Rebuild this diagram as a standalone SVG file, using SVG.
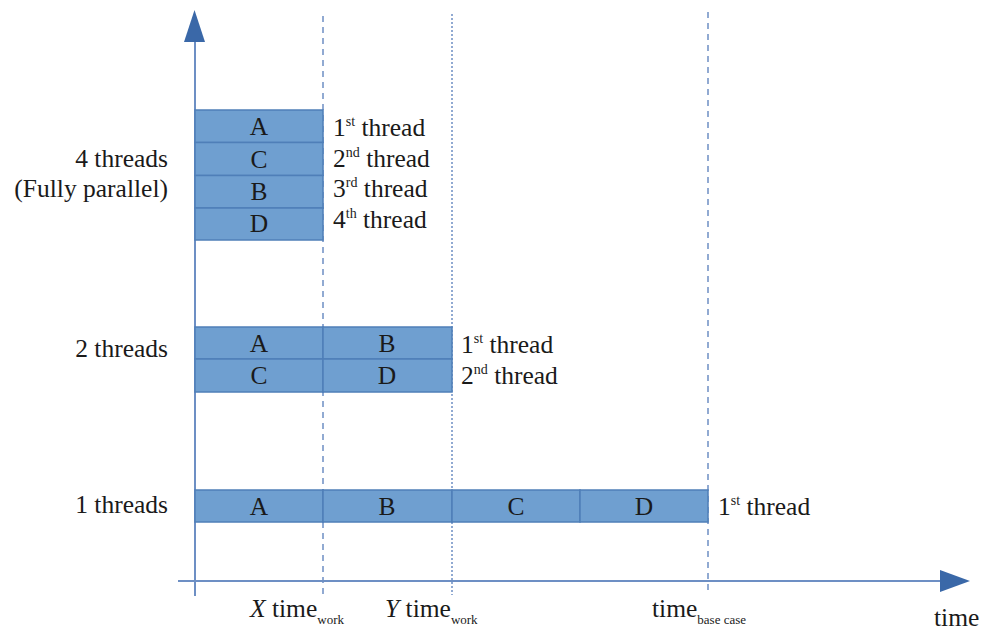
<svg xmlns="http://www.w3.org/2000/svg" width="986" height="631" viewBox="0 0 986 631">
  <style>
    .box { fill: #6f9fd0; stroke: #4f7fb8; stroke-width: 1.5; }
    .lbl { font-family: "Liberation Serif", "DejaVu Serif", serif; font-size: 25.5px; fill: #1a1a1a; }
    .mid { text-anchor: middle; }
    .end { text-anchor: end; }
    .sup { font-size: 14px; }
    .sub { font-size: 13px; }
    .axis { stroke: #6d8fc4; stroke-width: 2; fill: none; }
    .guide { stroke: #6d8fc4; stroke-width: 1.5; fill: none; }
  </style>
  <rect width="986" height="631" fill="#ffffff"/>

  <!-- guide lines at X, Y and base-case times, plus the axes -->
  <g id="connectors">
    <line class="guide" x1="323" y1="16" x2="323" y2="595" stroke-dasharray="6,5"/>
    <line class="guide" x1="452" y1="14" x2="452" y2="595" stroke-dasharray="2,2"/>
    <line class="guide" x1="708" y1="12" x2="708" y2="595" stroke-dasharray="6,5"/>
    <line class="axis" x1="195" y1="596" x2="195" y2="42"/>
    <path d="M184,42 L205,42 L194.5,10 Z" fill="#3a68a8"/>
    <line class="axis" x1="178" y1="581" x2="942" y2="581"/>
    <path d="M940,570 L940,592 L970,581 Z" fill="#3a68a8"/>
  </g>

  <!-- four threads -->
  <g id="four-threads">
    <rect class="box" x="195" y="110" width="128" height="32.5"/>
    <rect class="box" x="195" y="142.5" width="128" height="33"/>
    <rect class="box" x="195" y="175.5" width="128" height="32.5"/>
    <rect class="box" x="195" y="208" width="128" height="32"/>
    <text class="lbl mid" x="259" y="135">A</text>
    <text class="lbl mid" x="259" y="168">C</text>
    <text class="lbl mid" x="259" y="200">B</text>
    <text class="lbl mid" x="259" y="232">D</text>
    <text class="lbl" x="333" y="136">1<tspan class="sup" dy="-10">st</tspan><tspan dy="10"> thread</tspan></text>
    <text class="lbl" x="333" y="167">2<tspan class="sup" dy="-10">nd</tspan><tspan dy="10"> thread</tspan></text>
    <text class="lbl" x="333" y="197">3<tspan class="sup" dy="-10">rd</tspan><tspan dy="10"> thread</tspan></text>
    <text class="lbl" x="333" y="228">4<tspan class="sup" dy="-10">th</tspan><tspan dy="10"> thread</tspan></text>
    <text class="lbl end" x="168" y="167">4 threads</text>
    <text class="lbl end" x="168" y="197">(Fully parallel)</text>
  </g>

  <!-- two threads -->
  <g id="two-threads">
    <rect class="box" x="195" y="327" width="128" height="32"/>
    <rect class="box" x="323" y="327" width="129" height="32"/>
    <rect class="box" x="195" y="359" width="128" height="33"/>
    <rect class="box" x="323" y="359" width="129" height="33"/>
    <text class="lbl mid" x="259" y="352">A</text>
    <text class="lbl mid" x="387" y="352">B</text>
    <text class="lbl mid" x="259" y="384">C</text>
    <text class="lbl mid" x="387" y="384">D</text>
    <text class="lbl" x="461" y="353">1<tspan class="sup" dy="-10">st</tspan><tspan dy="10"> thread</tspan></text>
    <text class="lbl" x="461" y="384">2<tspan class="sup" dy="-10">nd</tspan><tspan dy="10"> thread</tspan></text>
    <text class="lbl end" x="168" y="357">2 threads</text>
  </g>

  <!-- one thread -->
  <g id="one-thread">
    <rect class="box" x="195" y="490" width="128" height="32"/>
    <rect class="box" x="323" y="490" width="129" height="32"/>
    <rect class="box" x="452" y="490" width="128" height="32"/>
    <rect class="box" x="580" y="490" width="128" height="32"/>
    <text class="lbl mid" x="259" y="515">A</text>
    <text class="lbl mid" x="387" y="515">B</text>
    <text class="lbl mid" x="516" y="515">C</text>
    <text class="lbl mid" x="644" y="515">D</text>
    <text class="lbl" x="718" y="515">1<tspan class="sup" dy="-10">st</tspan><tspan dy="10"> thread</tspan></text>
    <text class="lbl end" x="168" y="513">1 threads</text>
  </g>

  <!-- time axis labels -->
  <g id="time-labels">
    <text class="lbl" x="250" y="617"><tspan font-style="italic">X</tspan> time<tspan class="sub" dy="7">work</tspan></text>
    <text class="lbl" x="385" y="617"><tspan font-style="italic">Y</tspan> time<tspan class="sub" dy="7">work</tspan></text>
    <text class="lbl" x="652" y="617">time<tspan class="sub" dy="7">base case</tspan></text>
    <text class="lbl" x="934" y="626">time</text>
  </g>
</svg>
